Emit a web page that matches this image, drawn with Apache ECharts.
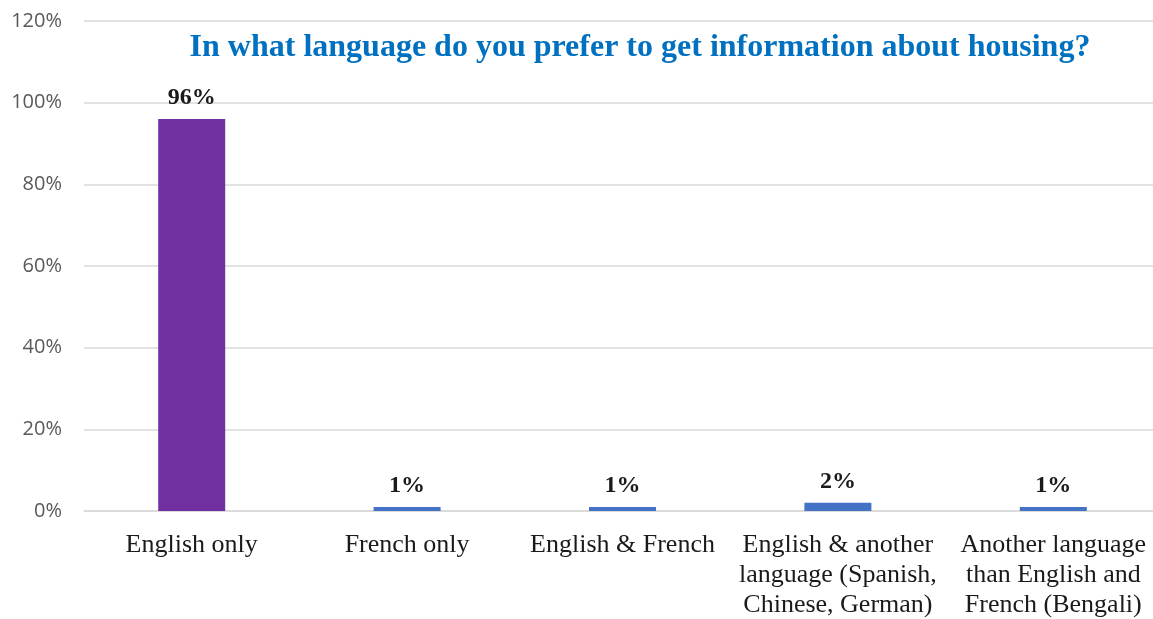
<!DOCTYPE html>
<html>
<head>
<meta charset="utf-8">
<script src="https://cdn.jsdelivr.net/npm/echarts@6/dist/echarts.min.js"></script>
<style>
  html, body { margin: 0; padding: 0; background: #ffffff; overflow: hidden; }
  #chart { width: 1153px; height: 619px; }
</style>
</head>
<body>
<div id="chart"></div>
<script>
// Preferred language for housing information (share of respondents, %)
const categories = [
  'English only',
  'French only',
  'English & French',
  'English & another\nlanguage (Spanish,\nChinese, German)',
  'Another language\nthan English and\nFrench (Bengali)'
];
const shares = [96, 1, 1, 2, 1];
const barColors = ['#7030A0', '#4472C4', '#4472C4', '#4472C4', '#4472C4'];
const yTicks = [0, 20, 40, 60, 80, 100, 120];

const chart = echarts.init(document.getElementById('chart'));
chart.setOption({
  animation: false,
  title: {
    text: 'In what language do you prefer to get information about housing?',
    left: 635,
    textAlign: 'center',
    top: 27,
    textStyle: {
      fontFamily: '"Liberation Serif", "Times New Roman", serif',
      fontWeight: 'bold',
      fontSize: 32,
      color: '#0070C0'
    }
  },
  // the plot runs a little past the right edge, so gridlines reach the border
  grid: { left: 84, right: -8, top: 21, bottom: 108, outerBoundsMode: 'none' },
  xAxis: {
    type: 'category',
    data: categories,
    axisLine: { show: true, lineStyle: { color: '#d9d9d9', width: 1.5 } },
    axisTick: { show: false },
    axisLabel: {
      interval: 0,
      margin: 19,
      fontFamily: '"Liberation Serif", "Times New Roman", serif',
      fontSize: 26,
      lineHeight: 30,
      color: '#1a1a1a'
    }
  },
  yAxis: {
    type: 'value',
    min: yTicks[0],
    max: yTicks[yTicks.length - 1],
    interval: yTicks[1] - yTicks[0],
    axisLine: { show: false },
    axisTick: { show: false },
    splitLine: { lineStyle: { color: '#d9d9d9', width: 1.5 } },
    axisLabel: {
      margin: 22,
      formatter: v => v + '%',
      fontFamily: '"Open Sans", "Noto Sans", sans-serif',
      fontSize: 20,
      color: '#595959'
    }
  },
  series: [{
    type: 'bar',
    barWidth: 67,
    data: shares.map((v, i) => ({ value: v, itemStyle: { color: barColors[i] } })),
    label: {
      show: true,
      position: 'top',
      distance: 9,
      formatter: p => p.value + '%',
      fontFamily: '"Liberation Serif", "Times New Roman", serif',
      fontWeight: 'bold',
      fontSize: 24,
      color: '#1a1a1a'
    }
  }]
});
</script>
</body>
</html>
